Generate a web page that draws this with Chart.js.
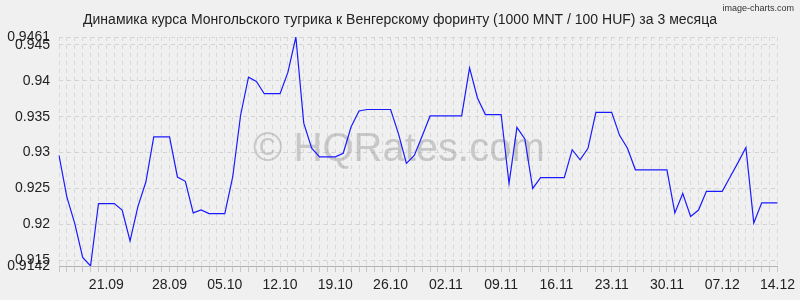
<!DOCTYPE html>
<html>
<head>
<meta charset="utf-8">
<script src="https://cdn.jsdelivr.net/npm/chart.js@4/dist/chart.umd.min.js"></script>
<style>
  html, body { margin: 0; padding: 0; background: #f0f0f0; }
  #wrap { width: 800px; height: 300px; }
</style>
</head>
<body>
<div id="wrap"><canvas id="rateChart" width="800" height="300"></canvas></div>
<script>
// курс за 1000 MNT / 100 HUF, по дням (14.09 - 14.12)
const rates = [
  0.9296, 0.9238, 0.9201, 0.9154, 0.9142, 0.9229, 0.9229, 0.9229, 0.9220, 0.9177,
  0.9225, 0.9259, 0.9322, 0.9322, 0.9322, 0.9266, 0.9260, 0.9216, 0.9220, 0.9215,
  0.9215, 0.9215, 0.9266, 0.9352, 0.9405, 0.9399, 0.9382, 0.9382, 0.9382, 0.9412,
  0.9461, 0.9341, 0.9306, 0.9294, 0.9294, 0.9294, 0.9299, 0.9336, 0.9358, 0.9360,
  0.9360, 0.9360, 0.9360, 0.9326, 0.9285, 0.9296, 0.9323, 0.9351, 0.9351, 0.9351,
  0.9351, 0.9351, 0.9418, 0.9376, 0.9353, 0.9353, 0.9353, 0.9257, 0.9335, 0.9319,
  0.9250, 0.9265, 0.9265, 0.9265, 0.9265, 0.9304, 0.9290, 0.9306, 0.9356, 0.9356,
  0.9356, 0.9324, 0.9306, 0.9276, 0.9276, 0.9276, 0.9276, 0.9276, 0.9216, 0.9243,
  0.9211, 0.9220, 0.9246, 0.9246, 0.9246, 0.9266, 0.9286, 0.9307, 0.9202, 0.9230,
  0.9230, 0.9230
]

const xTickIndex = [6, 14, 21, 28, 35, 42, 49, 56, 63, 70, 77, 84, 91]
const xTickText  = ['21.09', '28.09', '05.10', '12.10', '19.10', '26.10', '02.11',
                    '09.11', '16.11', '23.11', '30.11', '07.12', '14.12']

const yMin = 0.9142
const yMax = 0.9461
const yTicks = [0.9142, 0.915, 0.92, 0.925, 0.93, 0.935, 0.94, 0.945, 0.9461]

const title = 'Динамика курса Монгольского тугрика к Венгерскому форинту (1000 MNT / 100 HUF) за 3 месяца'

let labels = Array(rates.length).fill('')
xTickIndex.forEach((i, k) => { labels[i] = xTickText[k] })

const FONT = "'Liberation Sans', Arial, sans-serif"

const decor = {
    id: 'decor',
    beforeDraw(chart) {
        const ctx = chart.ctx
        ctx.save()
        ctx.fillStyle = '#f0f0f0'
        ctx.fillRect(0, 0, chart.width, chart.height)
        ctx.restore()
    },
    beforeDatasetsDraw(chart) {
        const ctx = chart.ctx
        ctx.save()
        ctx.fillStyle = 'rgba(150,150,150,0.45)'
        ctx.font = '40px ' + FONT
        ctx.textBaseline = 'alphabetic'
        ctx.textAlign = 'left'
        ctx.fillText('© HQRates.com', 253, 161)
        ctx.restore()
    },
    afterDraw(chart) {
        const ctx = chart.ctx
        ctx.save()
        ctx.fillStyle = '#222'
        ctx.font = '14px ' + FONT
        ctx.textAlign = 'center'
        ctx.textBaseline = 'alphabetic'
        ctx.fillText(title, 400, 24)
        ctx.fillStyle = '#333'
        ctx.font = '9px ' + FONT
        ctx.textAlign = 'right'
        ctx.fillText('image-charts.com', 794, 11)
        ctx.restore()
    }
}

new Chart(document.getElementById('rateChart'), {
    type: 'line',
    data: {
        labels: labels,
        datasets: [{
            data: rates,
            borderColor: '#1a1aff',
            borderWidth: 1.2,
            pointRadius: 0,
            tension: 0,
            fill: false
        }]
    },
    options: {
        responsive: false,
        animation: false,
        layout: { padding: { top: 37, right: 21, left: 0, bottom: 0 } },
        plugins: {
            legend: { display: false },
            tooltip: { enabled: false }
        },
        scales: {
            x: {
                offset: false,
                grid: { color: '#d8d8d8', tickLength: 6, tickColor: '#c8c8c8' },
                border: { display: true, color: '#b4b4b4', dash: [4, 4] },
                ticks: {
                    autoSkip: false, maxRotation: 0, minRotation: 0, padding: 5,
                    color: '#222', font: { family: FONT, size: 14 }
                },
                afterFit(scale) { scale.height = 34 }
            },
            y: {
                min: yMin,
                max: yMax,
                afterBuildTicks(scale) { scale.ticks = yTicks.map(v => ({ value: v })) },
                grid: { color: '#d4d4d4', drawTicks: false },
                border: { display: false, dash: [4, 4] },
                ticks: {
                    autoSkip: false, padding: 9,
                    color: '#222', font: { family: FONT, size: 14 },
                    callback: v => String(+v.toFixed(4))
                },
                afterFit(scale) { scale.width = 59 }
            }
        }
    },
    plugins: [decor]
})
</script>
</body>
</html>
